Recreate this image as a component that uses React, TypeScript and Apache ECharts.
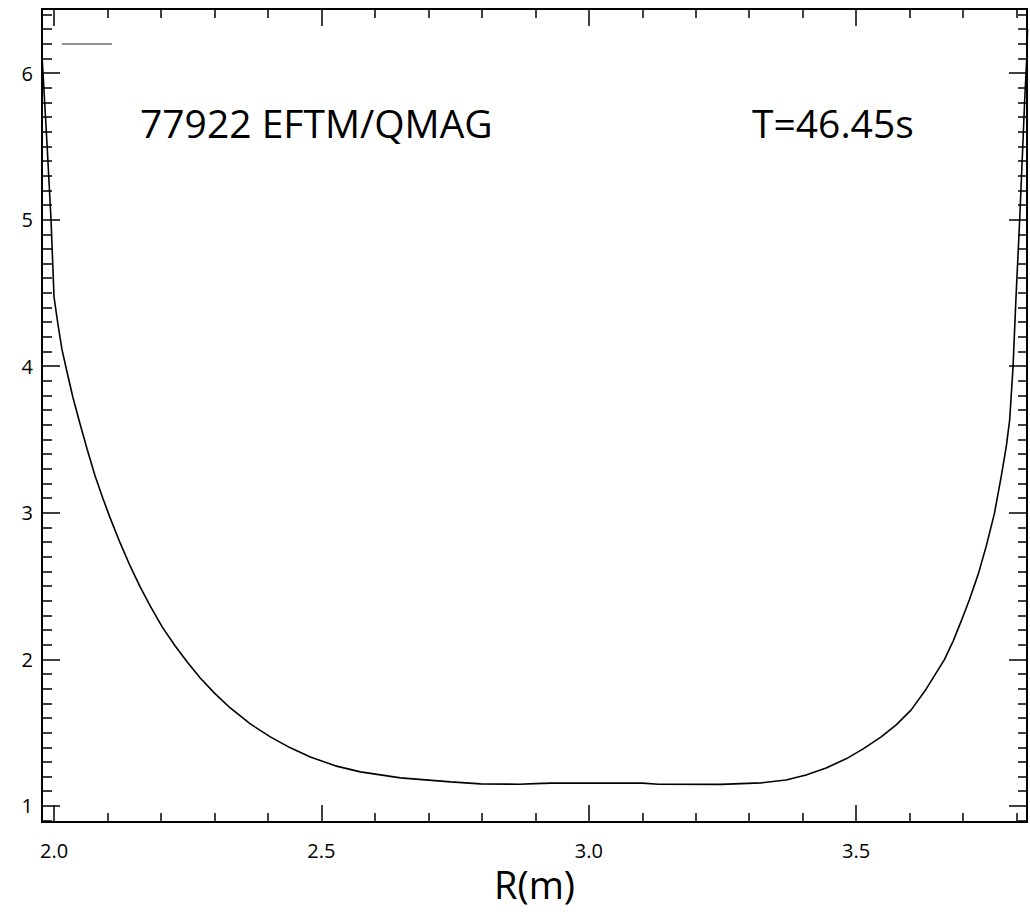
import React, { useEffect, useRef } from "react";
import * as echarts from "echarts";

// Safety factor profile q along the major radius R (m)
const radius = [
  1.9775, 1.9794, 1.9875, 1.9944, 2.0, 2.0075, 2.015, 2.0243, 2.0356, 2.0487,
  2.0618, 2.0768, 2.0918, 2.1049, 2.1236, 2.1423, 2.161, 2.1798, 2.2022,
  2.2266, 2.2491, 2.2734, 2.3015, 2.3296, 2.367, 2.4045, 2.4419, 2.4794,
  2.5262, 2.573, 2.6479, 2.7416, 2.7978, 2.87, 2.9, 2.93, 3.02, 3.1, 3.13,
  3.2472, 3.3221, 3.3689, 3.4064, 3.4438, 3.4813, 3.5131, 3.5468, 3.5749,
  3.603, 3.6311, 3.6648, 3.6816, 3.6966, 3.7116, 3.7285, 3.7434, 3.7584,
  3.7715, 3.7809, 3.7871, 3.7934, 3.7987, 3.8058, 3.8109, 3.8152, 3.8193,
  3.8205,
];
const qValues = [
  6.12, 6.0, 5.475, 4.997, 4.472, 4.281, 4.111, 3.96, 3.783, 3.606, 3.435,
  3.251, 3.094, 2.965, 2.794, 2.637, 2.494, 2.364, 2.221, 2.091, 1.982, 1.873,
  1.764, 1.668, 1.559, 1.471, 1.396, 1.334, 1.273, 1.232, 1.191, 1.164, 1.15,
  1.148, 1.152, 1.155, 1.156, 1.155, 1.148, 1.147, 1.157, 1.177, 1.211, 1.259,
  1.321, 1.389, 1.471, 1.553, 1.655, 1.798, 1.996, 2.126, 2.262, 2.405, 2.583,
  2.774, 2.992, 3.251, 3.456, 3.633, 3.995, 4.452, 4.997, 5.441, 5.816, 6.123,
  6.3,
];

const xMajorTicks = [2.0, 2.5, 3.0, 3.5];
const xMinorTicks = [2.1, 2.2, 2.3, 2.4, 2.6, 2.7, 2.8, 2.9, 3.1, 3.2, 3.3, 3.4, 3.6, 3.7, 3.8];
const yMajorTicks = [1, 2, 3, 4, 5, 6];

const X_MIN = 1.9775;
const X_MAX = 3.8195;
const Y_MIN = 0.89;
const Y_MAX = 6.437;

const titleLeft = "77922 EFTM/QMAG";
const titleRight = "T=46.45s";
const xName = "R(m)";

const FONT = "Open Sans";

function yMinorTicks(): number[] {
  const out: number[] = [];
  for (let i = 9; i <= 64; i++) {
    if (i % 10 !== 0) out.push(i / 10);
  }
  return out;
}

export default function App() {
  const ref = useRef<HTMLDivElement>(null);

  useEffect(() => {
    if (!ref.current) return;
    const chart = echarts.init(ref.current, null, { renderer: "svg" });

    const axisLineStyle = { show: true, lineStyle: { color: "#000", width: 2 } };

    const xAxisBase = (position: "top" | "bottom", ticks: number[], len: number, labels: boolean) => ({
      type: "value" as const,
      position,
      min: X_MIN,
      max: X_MAX,
      axisLine: axisLineStyle,
      splitLine: { show: false },
      axisTick: {
        show: true,
        inside: true,
        length: len,
        customValues: ticks,
        lineStyle: { color: "#000", width: 1.5 },
      },
      axisLabel: labels
        ? {
            show: true,
            customValues: ticks,
            margin: 18,
            color: "#000",
            fontFamily: FONT,
            fontSize: 20,
            formatter: (v: number) => v.toFixed(1),
          }
        : { show: false },
    });

    const yAxisBase = (position: "left" | "right", ticks: number[], len: number, labels: boolean) => ({
      type: "value" as const,
      position,
      min: Y_MIN,
      max: Y_MAX,
      axisLine: axisLineStyle,
      splitLine: { show: false },
      axisTick: {
        show: true,
        inside: true,
        length: len,
        customValues: ticks,
        lineStyle: { color: "#000", width: 1.5 },
      },
      axisLabel: labels
        ? {
            show: true,
            customValues: ticks,
            margin: 9,
            color: "#000",
            fontFamily: FONT,
            fontSize: 20,
            formatter: (v: number) => String(Math.round(v)),
          }
        : { show: false },
    });

    const xMain: any = xAxisBase("bottom", xMajorTicks, 17, true);
    xMain.name = xName;
    xMain.nameLocation = "middle";
    xMain.nameGap = 35;
    xMain.nameTextStyle = { color: "#000", fontFamily: FONT, fontSize: 38 };

    chart.setOption({
      animation: false,
      backgroundColor: "#fff",
      grid: { left: 42, right: 3, top: 9, bottom: 93, containLabel: false },
      xAxis: [
        xMain,
        xAxisBase("bottom", xMinorTicks, 9, false),
        xAxisBase("top", xMajorTicks, 17, false),
        xAxisBase("top", xMinorTicks, 9, false),
      ],
      yAxis: [
        yAxisBase("left", yMajorTicks, 18, true),
        yAxisBase("left", yMinorTicks(), 10, false),
        yAxisBase("right", yMajorTicks, 18, false),
        yAxisBase("right", yMinorTicks(), 9, false),
      ],
      graphic: [
        {
          type: "line",
          shape: { x1: 62, y1: 44, x2: 112, y2: 44 },
          style: { stroke: "#222", lineWidth: 1 },
        },
        {
          type: "text",
          x: 140,
          y: 122,
          style: {
            text: titleLeft,
            fill: "#000",
            font: `39px "${FONT}"`,
            verticalAlign: "middle",
          },
        },
        {
          type: "text",
          x: 752,
          y: 122,
          style: {
            text: titleRight,
            fill: "#000",
            font: `39px "${FONT}"`,
            verticalAlign: "middle",
          },
        },
      ],
      series: [
        {
          type: "line",
          xAxisIndex: 0,
          yAxisIndex: 0,
          data: radius.map((r, i) => [r, qValues[i]]),
          showSymbol: false,
          smooth: false,
          clip: true,
          lineStyle: { color: "#000", width: 1.6 },
        },
      ],
    });

    return () => chart.dispose();
  }, []);

  return (
    <div
      ref={ref}
      style={{ position: "absolute", left: 0, top: 0, width: 1030, height: 915 }}
    />
  );
}
